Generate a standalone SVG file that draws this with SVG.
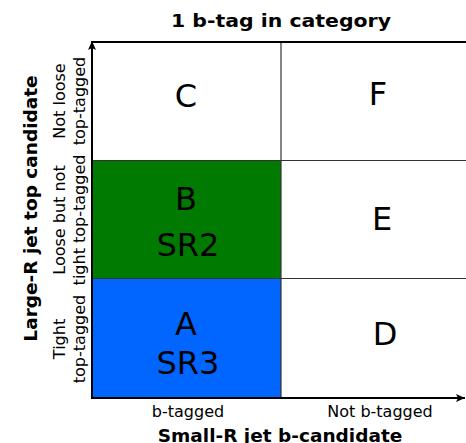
<svg xmlns="http://www.w3.org/2000/svg" width="466" height="443" viewBox="0 0 466 443">
  <style>
    text { font-family: "DejaVu Sans", "Liberation Sans", sans-serif; fill: #000; }
    .title { font-size: 18.5px; font-weight: bold; text-anchor: middle; }
    .cell { font-size: 32px; text-anchor: middle; }
    .tick { font-size: 16px; text-anchor: middle; }
    .grid { stroke: #333; stroke-width: 1.2; fill: none; }
    .axis { stroke: #000; stroke-width: 2; fill: none; }
  </style>
  <defs>
    <marker id="arrow" markerWidth="10" markerHeight="10" refX="9" refY="5" orient="auto" markerUnits="userSpaceOnUse">
      <path d="M0,1 L9,5 L0,9 L2,5 Z" fill="#000"/>
    </marker>
  </defs>

  <text class="title" x="281" y="27" textLength="220" lengthAdjust="spacingAndGlyphs">1 b-tag in category</text>

  <!-- category cells -->
  <g id="cellC"><text class="cell" x="186" y="107">C</text></g>
  <g id="cellF"><text class="cell" x="378" y="105">F</text></g>
  <g id="cellB">
    <rect x="92" y="160.5" width="189" height="118" fill="#007a00"/>
    <text class="cell" x="186" y="210">B</text>
    <text class="cell" x="188" y="256">SR2</text>
  </g>
  <g id="cellE"><text class="cell" x="382" y="230">E</text></g>
  <g id="cellA">
    <rect x="92" y="278.5" width="189" height="119" fill="#0066ff"/>
    <text class="cell" x="186" y="335">A</text>
    <text class="cell" x="188" y="374">SR3</text>
  </g>
  <g id="cellD"><text class="cell" x="385" y="345">D</text></g>

  <!-- grid and axes -->
  <g id="connectors">
    <line class="grid" x1="281" y1="42" x2="281" y2="398"/>
    <line class="grid" x1="92" y1="160.5" x2="466" y2="160.5"/>
    <line class="grid" x1="92" y1="278.5" x2="466" y2="278.5"/>
    <line class="axis" x1="92" y1="42" x2="466" y2="42"/>
    <line class="axis" x1="92" y1="398" x2="92" y2="41" marker-end="url(#arrow)"/>
    <line class="axis" x1="91" y1="398" x2="465" y2="398" marker-end="url(#arrow)"/>
  </g>

  <!-- x axis labels -->
  <text class="tick" x="188" y="417">b-tagged</text>
  <text class="tick" x="380" y="417">Not b-tagged</text>
  <text class="title" x="280" y="441.5">Small-R jet b-candidate</text>

  <!-- y axis labels -->
  <text class="title" transform="translate(37,208.5) rotate(-90)">Large-R jet top candidate</text>
  <text class="tick" transform="translate(65,101) rotate(-90)">Not loose</text>
  <text class="tick" transform="translate(84.5,101) rotate(-90)">top-tagged</text>
  <text class="tick" transform="translate(65,220) rotate(-90)">Loose but not</text>
  <text class="tick" transform="translate(84.5,220) rotate(-90)">tight top-tagged</text>
  <text class="tick" transform="translate(65,339) rotate(-90)">Tight</text>
  <text class="tick" transform="translate(84.5,339) rotate(-90)">top-tagged</text>
</svg>
